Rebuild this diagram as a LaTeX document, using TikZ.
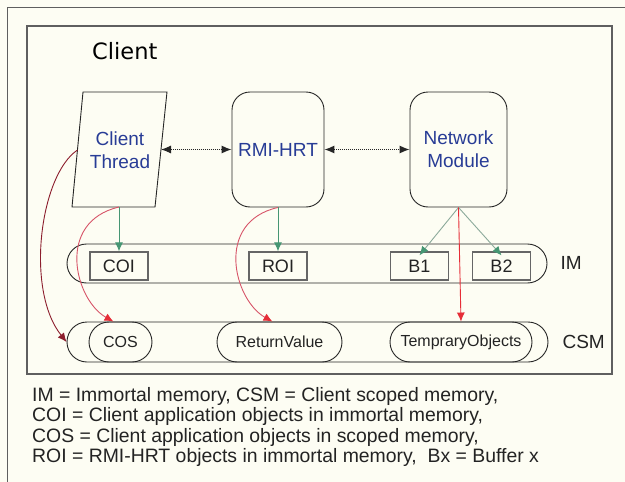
\documentclass[tikz,border=0pt]{standalone}
\usepackage{fontspec}
\setmainfont{Liberation Sans}
\newfontfamily\titlefont{DejaVu Sans}
\usetikzlibrary{arrows.meta,calc}
\definecolor{bgc}{RGB}{253,253,243}
\definecolor{framec}{RGB}{95,95,95}
\definecolor{bluet}{RGB}{40,60,150}
\definecolor{greena}{RGB}{70,150,115}
\definecolor{greenl}{RGB}{140,170,155}
\definecolor{reda}{RGB}{230,45,55}
\definecolor{redl}{RGB}{215,85,105}
\definecolor{darkred}{RGB}{140,30,45}
\definecolor{textc}{RGB}{35,35,35}
\begin{document}
\begin{tikzpicture}[x=1pt,y=-1pt,
  blk/.style={draw=black!85, line width=0.9pt},
  rbox/.style={blk, rounded corners=18pt, minimum height=115pt, inner sep=0pt,
    align=center, text=bluet, font=\fontsize{19}{23}\selectfont},
  band/.style={blk, rounded corners=19.5pt, minimum height=39pt, inner sep=0pt},
  ibox/.style={draw=black!60, line width=1.3pt, minimum width=58pt, minimum height=28pt,
    inner sep=0pt, text=textc, font=\fontsize{18}{20}\selectfont},
  sbox/.style={blk, rounded corners=20pt, minimum height=40pt, inner sep=0pt,
    text=textc, font=\fontsize{16}{18}\selectfont},
  lbl/.style={anchor=base west, text=textc, font=\fontsize{19}{21}\selectfont},
  leg/.style={anchor=base west, inner sep=0pt, text=textc, font=\fontsize{19.4}{21}\selectfont},
  dotarrow/.style={{Latex[length=10pt,width=8pt]}-{Latex[length=10pt,width=8pt]},
    black!85, line width=1pt, dash pattern=on 1pt off 1pt},
  garrow/.style={-{Latex[length=9pt,width=8pt]}, greena, line width=0.9pt},
  glarrow/.style={-{Latex[length=9pt,width=8pt,color=greena]}, greenl, line width=0.9pt},
  rarrow/.style={-{Latex[length=9pt,width=8pt,color=reda]}, redl, line width=0.9pt},
  rsarrow/.style={-{Latex[length=9pt,width=8pt]}, reda, line width=0.9pt},
  drarrow/.style={-{Latex[length=9pt,width=8pt]}, darkred, line width=0.9pt}
]
\useasboundingbox (0,0) rectangle (625,482);
\fill[bgc] (0,0) rectangle (625,482);
\begin{scope}
  \clip (0,0) rectangle (625,482);
  \draw[framec, line width=1pt] (7,7) rectangle (700,600);
\end{scope}
\draw[framec, line width=1.4pt] (27,26) rectangle (612,374);

\node[anchor=base west, inner sep=0pt, text=black, font=\titlefont\fontsize{22.5}{26}\selectfont] (title) at (92,59) {Client};

% Client Thread parallelogram
\draw[blk] (83,92) -- (167,92) -- (155,207) -- (72,207) -- cycle;
\node[align=center, text=bluet, font=\fontsize{19}{23}\selectfont] (ct) at (120,150) {Client\\Thread};
\coordinate (ctbot) at (119,207);
\coordinate (ctleft) at (77.5,150);
\coordinate (ctright) at (161,149.5);

\node[rbox, minimum width=92pt] (rmi) at (278,149.5) {RMI-HRT};
\node[rbox, minimum width=97pt] (net) at (458.5,149.5) {Network\\Module};

\draw[dotarrow] (ctright) -- (rmi.west);
\draw[dotarrow] (rmi.east) -- (net.west);

% IM band
\node[band, minimum width=480pt] (im) at (307,263.5) {};
\node[ibox] (coi) at (119,266) {COI};
\node[ibox] (roi) at (278,266) {ROI};
\node[ibox] (b1) at (419.5,266) {B1};
\node[ibox] (b2) at (501.5,266) {B2};
\node[lbl] (imlbl) at (557,269) {IM};

% CSM band
\node[band, rounded corners=20pt, minimum width=481pt, minimum height=40pt] (csm) at (307.5,342) {};
\node[sbox, minimum width=63pt] (cos) at (120.5,342) {COS};
\node[sbox, minimum width=125pt] (rv) at (279.5,342) {ReturnValue};
\node[sbox, minimum width=142pt] (tmp) at (461,342) {TempraryObjects};
\node[lbl] (csmlbl) at (559,348) {CSM};

% arrows
\draw[garrow] (ctbot) -- (coi.north);
\draw[garrow] (rmi.south) -- (roi.north);
\draw[glarrow] (net.south) -- ([yshift=-4pt]b1.north);
\draw[glarrow] (net.south) -- ([yshift=-4pt]b2.north);
\draw[rsarrow] (net.south) -- (tmp.north);
\draw[rarrow] (ctbot) .. controls (55,222) and (75,300) .. ([xshift=-7pt]cos.north);
\draw[rarrow] (rmi.south) .. controls (214,222) and (234,300) .. ([xshift=-7pt]rv.north);
\draw[drarrow] (ctleft) .. controls (40,175) and (25,290) .. (csm.west);

% legend
\node[leg] (l1) at (32,401) {IM = Immortal memory, CSM = Client scoped memory,};
\node[leg] (l2) at (32,421.5) {COI = Client application objects in immortal memory,};
\node[leg] (l3) at (32,442) {COS = Client application objects in scoped memory,};
\node[leg] (l4) at (32,462.5) {ROI = RMI-HRT objects in immortal memory,\ \ Bx = Buffer x};
\end{tikzpicture}
\end{document}
